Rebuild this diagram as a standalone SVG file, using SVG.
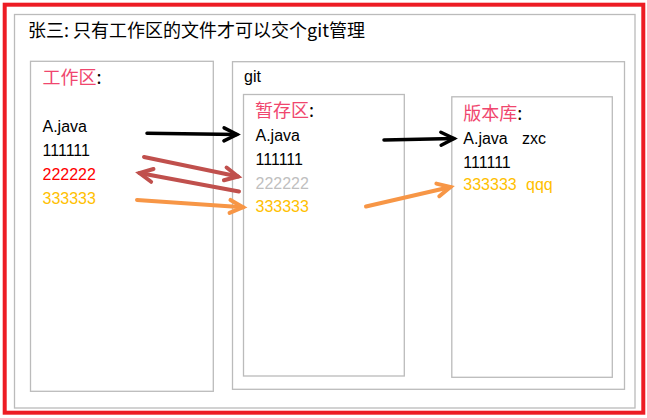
<svg xmlns="http://www.w3.org/2000/svg" width="647" height="418" viewBox="0 0 647 418">
<style>
.box{fill:#fff;stroke:#BBBBBB;stroke-width:1.3}
.cjk{font-family:"Noto Sans CJK SC","Liberation Sans",sans-serif;font-size:18px}
.lbl{fill:#F0466E}
.t{font-family:"Liberation Sans",Arial,sans-serif;font-size:16px;fill:#000}
.red{fill:#FF0000}
.yel{fill:#FFC000}
.gry{fill:#BFBFBF}
.blk{stroke:#000;stroke-width:3.5;fill:none;stroke-linecap:round}
.brn{stroke:#C0504D;stroke-width:4;fill:none;stroke-linecap:round}
.org{stroke:#F79646;stroke-width:4;fill:none;stroke-linecap:round}
</style>
<defs>
<marker id="mk" markerUnits="userSpaceOnUse" viewBox="0 0 18 16" markerWidth="18" markerHeight="16" refX="15" refY="8" orient="auto" overflow="visible">
<path d="M2,1.5 L15,8 L2,14.5" fill="none" stroke="#000" stroke-width="3.5" stroke-linecap="round" stroke-linejoin="miter"/>
</marker>
<marker id="mb" markerUnits="userSpaceOnUse" viewBox="0 0 18 16" markerWidth="18" markerHeight="16" refX="15" refY="8" orient="auto" overflow="visible">
<path d="M2,1.5 L15,8 L2,14.5" fill="none" stroke="#C0504D" stroke-width="4" stroke-linecap="round" stroke-linejoin="miter"/>
</marker>
<marker id="mo" markerUnits="userSpaceOnUse" viewBox="0 0 18 16" markerWidth="18" markerHeight="16" refX="15" refY="8" orient="auto" overflow="visible">
<path d="M2,1.5 L15,8 L2,14.5" fill="none" stroke="#F79646" stroke-width="4" stroke-linecap="round" stroke-linejoin="miter"/>
</marker>
</defs>
<rect x="0" y="0" width="647" height="418" fill="#fff"/>
<rect id="frame" x="4.7" y="4.7" width="638.6" height="408" fill="#fff" stroke="#ED1C24" stroke-width="4"/>
<g id="outer">
<rect class="box" x="14.5" y="14.5" width="620.5" height="393.5"/>
<text class="cjk" x="28" y="36.5" fill="#000">张三: 只有工作区的文件才可以交个git管理</text>
</g>
<g id="workspace">
<rect class="box" x="30.5" y="61.3" width="182.8" height="330"/>
<text class="cjk" x="42.5" y="83.5"><tspan class="lbl">工作区</tspan><tspan fill="#000">:</tspan></text>
<text class="t" x="42.5" y="131.5">A.java</text>
<text class="t" x="42.5" y="156">111111</text>
<text class="t red" x="42.5" y="179.5">222222</text>
<text class="t yel" x="42.5" y="203.5">333333</text>
</g>
<g id="git">
<rect class="box" x="232.5" y="61.7" width="392" height="327.6"/>
<text class="t" x="244" y="82">git</text>
</g>
<g id="stage">
<rect class="box" x="243.5" y="94.5" width="160.8" height="281.5"/>
<text class="cjk" x="255" y="116.5"><tspan class="lbl">暂存区</tspan><tspan fill="#000">:</tspan></text>
<text class="t" x="255.5" y="140.5">A.java</text>
<text class="t" x="255.5" y="165">111111</text>
<text class="t gry" x="255.5" y="188.5">222222</text>
<text class="t yel" x="255.5" y="212">333333</text>
</g>
<g id="repo">
<rect class="box" x="451.8" y="96.8" width="160.5" height="280.5"/>
<text class="cjk" x="463.3" y="119.5"><tspan class="lbl">版本库</tspan><tspan fill="#000">:</tspan></text>
<text class="t" x="463.3" y="143.5">A.java <tspan x="522">zxc</tspan></text>
<text class="t" x="463.3" y="167.5">111111</text>
<text class="t yel" x="463.3" y="190">333333 <tspan x="526">qqq</tspan></text>
</g>
<g id="connectors">
<path class="blk" d="M147,133.3 L237,134.5" marker-end="url(#mk)"/>
<path class="blk" d="M384,140 L454,138.5" marker-end="url(#mk)"/>
<path class="brn" d="M144,157 L238,176.5" marker-end="url(#mb)"/>
<path class="brn" d="M239,191.5 L139.5,173" marker-end="url(#mb)"/>
<path class="org" d="M137,200 L243,207.3" marker-end="url(#mo)"/>
<path class="org" d="M366,206.5 L450.5,187" marker-end="url(#mo)"/>
</g>
</svg>
